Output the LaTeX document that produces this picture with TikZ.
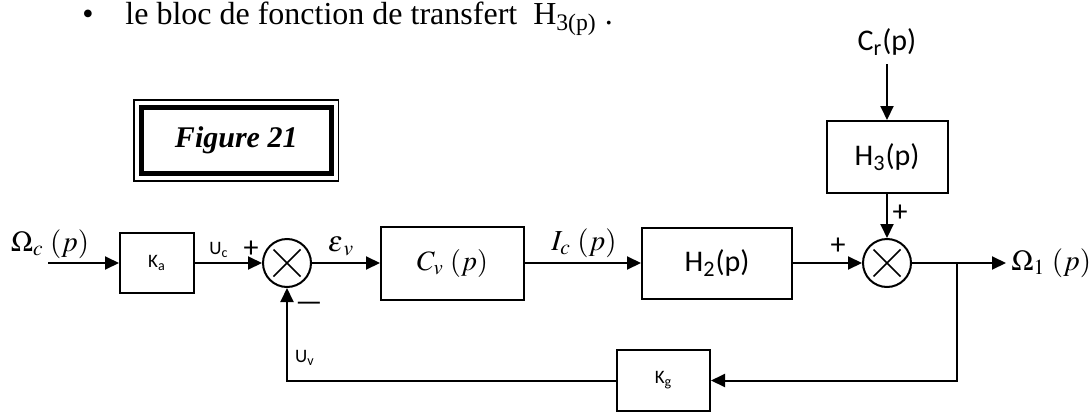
\documentclass[tikz,border=0pt]{standalone}
\usepackage{mathptmx}
\usepackage{fontspec}
\setmainfont{Liberation Serif}
\newfontfamily\calib{Carlito}
\usetikzlibrary{arrows.meta, positioning, calc}

\begin{document}
\begin{tikzpicture}[x=0.5pt, y=-0.5pt,
    block/.style={rectangle, draw, line width=1pt, inner sep=0pt, font=\calib\fontsize{15}{18}\selectfont},
    sum/.style={circle, draw, line width=1pt, minimum size=24pt, inner sep=0pt,
        path picture={\draw[line width=0.8pt]
            ([shift={(-13.5,-13.5)}]path picture bounding box.center) -- ([shift={(13.5,13.5)}]path picture bounding box.center)
            ([shift={(-13.5,13.5)}]path picture bounding box.center) -- ([shift={(13.5,-13.5)}]path picture bounding box.center);}},
    arrow/.style={-{Triangle[length=7pt, width=6.5pt]}, line width=1pt},
    sig/.style={inner sep=0pt, font=\fontsize{14.5}{17}\selectfont},
    lbl/.style={inner sep=0pt, font=\calib\fontsize{9.5}{11}\selectfont},
    plus/.style={inner sep=0pt, font=\calib\fontsize{15}{18}\selectfont}
]
\useasboundingbox (0,0) rectangle (1092,412);

% Text line above
\node[anchor=base, inner sep=0pt, font=\fontsize{16}{19}\selectfont] (bul) at (88,25) {\textbullet};
\node[anchor=base west, inner sep=0pt, font=\fontsize{16}{19}\selectfont] (txt) at (125,25) {le bloc de fonction de transfert\ \ H\textsubscript{3(p)} .};

% Figure label
\node[draw, line width=2.5pt, outer sep=0pt, minimum width=94.75pt, minimum height=33pt,
    font=\fontsize{15}{18}\selectfont\bfseries\itshape] (fig) at (236.25,140.5) {Figure 21};
\draw[line width=0.8pt] ($(fig.north west)+(-7.5,-7.5)$) rectangle ($(fig.south east)+(7.5,7.5)$);

% Blocks
\node[block, minimum width=37pt, minimum height=30pt, font=\calib\fontsize{9.5}{11}\selectfont] (ka) at (157,263) {K\textsubscript{a}};
\node[sum] (s1) at (287,263) {};
\node[block, minimum width=71.5pt, minimum height=36.5pt, font=\fontsize{14}{16}\selectfont] (cv) at (452.5,263) {$C_v\;(p)$};
\node[block, minimum width=75pt, minimum height=35.5pt] (h2) at (717,263) {H\textsubscript{2}(p)};
\node[sum] (s2) at (887,263) {};
\node[block, minimum width=60.5pt, minimum height=36pt] (h3) at (887,157) {H\textsubscript{3}(p)};
\node[block, minimum width=46.5pt, minimum height=30.5pt, font=\calib\fontsize{9.5}{11}\selectfont] (kg) at (663.5,380.5) {K\textsubscript{g}};

% Signals
\node[sig] (omc) at (50,244) {$\Omega_c\;(p)$};
\coordinate (in) at (48,263);
\node[sig, anchor=west, inner xsep=2.5pt] (om1) at (1006,263) {$\Omega_1\;(p)$};
\coordinate (br) at (957,263);
\node[block, draw=none, inner sep=4pt] (cr) at (887,42) {C\textsubscript{r}(p)};

% Labels
\node[lbl] (uc) at (219,250) {U\textsubscript{c}};
\node[plus] (p1) at (251,249) {+};
\node[sig] (ev) at (341,246) {$\varepsilon_{\kern1.5pt v}$};
\node[sig] (ic) at (584,243) {$I_c\;(p)$};
\node[plus] (p2) at (838,246) {+};
\node[plus] (p3) at (900,213) {+};
\node[plus] (mn) at (309,307) {\textemdash};
\node[lbl] (uv) at (305,358) {U\textsubscript{v}};

% Arrows
\draw[arrow] (in) -- (ka);
\draw[arrow] (ka) -- (s1);
\draw[arrow] (s1) -- (cv);
\draw[arrow] (cv) -- (h2);
\draw[arrow] (h2) -- (s2);
\draw[arrow] (cr) -- (h3);
\draw[arrow] (h3) -- (s2);
\draw[arrow] (s2) -- (om1);
\draw[arrow] (br) |- (kg);
\draw[arrow] (kg) -| (s1);

\end{tikzpicture}
\end{document}
